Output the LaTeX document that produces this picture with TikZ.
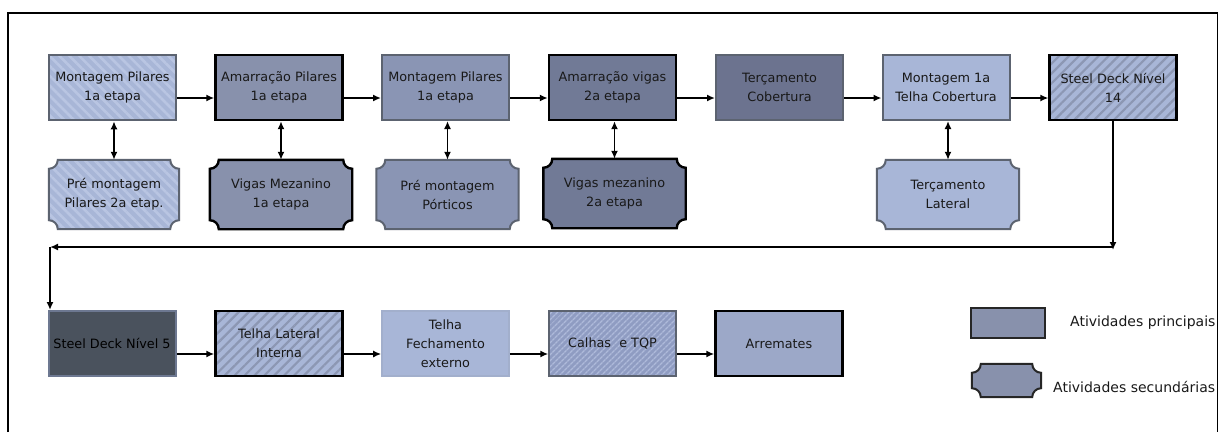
\documentclass[tikz,border=0pt]{standalone}
\usepackage{fontspec}
\setmainfont{DejaVu Sans}
\usetikzlibrary{arrows.meta,patterns.meta,calc,backgrounds}

\definecolor{paleblue}{HTML}{A8B6D7}
\definecolor{palestripe}{HTML}{B9C5E2}
\definecolor{midblue}{HTML}{8891AC}
\definecolor{midblueB}{HTML}{8A95B4}
\definecolor{duskA}{HTML}{717A96}
\definecolor{duskB}{HTML}{6C738F}
\definecolor{slate}{HTML}{4A525D}
\definecolor{hatchdark}{HTML}{8C97B3}
\definecolor{gutterfill}{HTML}{8F9CC2}
\definecolor{gutterstripe}{HTML}{AEBADA}
\definecolor{trimfill}{HTML}{9CA8C8}
\definecolor{edgegray}{HTML}{5C6370}
\definecolor{edgelight}{HTML}{A2AFCC}
\definecolor{edgeslate}{HTML}{6D7891}

% concave-cornered outline drawn around a node
\newcommand\plaque[2]{%
  \path[#2]
    ($(#1.north west)+(9,0)$) -- ($(#1.north east)+(-9,0)$)
    .. controls ($(#1.north east)+(-9,5)$) and ($(#1.north east)+(-5,9)$) .. ($(#1.north east)+(0,9)$)
    -- ($(#1.south east)+(0,-9)$)
    .. controls ($(#1.south east)+(-5,-9)$) and ($(#1.south east)+(-9,-5)$) .. ($(#1.south east)+(-9,0)$)
    -- ($(#1.south west)+(9,0)$)
    .. controls ($(#1.south west)+(9,-5)$) and ($(#1.south west)+(5,-9)$) .. ($(#1.south west)+(0,-9)$)
    -- ($(#1.north west)+(0,9)$)
    .. controls ($(#1.north west)+(5,9)$) and ($(#1.north west)+(9,5)$) .. cycle;}

\begin{document}
\begin{tikzpicture}[x=1pt,y=-1pt,
  txt/.style={font=\fontsize{12.8}{19}\selectfont, text=black!90, align=center, inner sep=0pt},
  box/.style={txt, rectangle, minimum width=127pt, minimum height=65pt},
  sec/.style={txt, rectangle, minimum width=142pt, minimum height=69pt},
  greyedge/.style={draw=edgegray, line width=2pt},
  blackedge/.style={draw=black, line width=2.4pt},
  lightstripes/.style={preaction={fill=paleblue}, pattern={Lines[angle=-45,distance=7pt,line width=2.6pt]}, pattern color=palestripe},
  darkstripes/.style={preaction={fill=paleblue}, pattern={Lines[angle=45,distance=7pt,line width=2.2pt]}, pattern color=hatchdark},
  finestripes/.style={preaction={fill=gutterfill}, pattern={Lines[angle=45,distance=4pt,line width=1.4pt]}, pattern color=gutterstripe},
  flow/.style={-{Latex[length=8pt,width=7pt]}, line width=1.8pt},
  twoway/.style={{Latex[length=8pt,width=7pt]}-{Latex[length=8pt,width=7pt]}, line width=1.8pt},
  legendtext/.style={font=\fontsize{14}{17}\selectfont, text=black!90, anchor=west, inner sep=0pt}]

\useasboundingbox (0,0) rectangle (1219,432);

% frame
\draw[line width=1.6pt] (8,432) -- (8,13) -- (1217.5,13) -- (1217.5,432);

% first row: main activities
\node[box, greyedge, lightstripes] (p1) at (112.5,87.5) {Montagem Pilares\\1a etapa};
\node[box, blackedge, fill=midblue] (p2) at (279,87.5) {Amarração Pilares\\1a etapa};
\node[box, greyedge, fill=midblueB] (p3) at (445.5,87.5) {Montagem Pilares\\1a etapa};
\node[box, blackedge, fill=duskA] (p4) at (612.5,87.5) {Amarração vigas\\2a etapa};
\node[box, greyedge, fill=duskB] (p5) at (779.5,87.5) {Terçamento\\Cobertura};
\node[box, greyedge, fill=paleblue] (p6) at (946,87.5) {Montagem 1a\\Telha Cobertura};
\node[box, blackedge, darkstripes] (p7) at (1113,87.5) {Steel Deck Nível\\14};

% first row: secondary activities
\node[sec, minimum width=130pt] (s1) at (114,194.5) {Pré montagem\\Pilares 2a etap.};
\node[sec] (s2) at (281,194.5) {Vigas Mezanino\\1a etapa};
\node[sec] (s3) at (447.5,194.5) {Pré montagem\\Pórticos};
\node[sec] (s4) at (614.5,193.5) {Vigas mezanino\\2a etapa};
\node[sec] (s6) at (948,194.5) {Terçamento\\Lateral};

% second row
\node[box, draw=edgeslate, line width=2pt, fill=slate, text=black] (q1) at (112,343.5) {Steel Deck Nível 5};
\node[box, blackedge, darkstripes] (q2) at (279,343.5) {Telha Lateral\\Interna};
\node[box, draw=edgelight, line width=1.6pt, fill=paleblue] (q3) at (445.5,343.5) {Telha\\Fechamento\\externo};
\node[box, greyedge, finestripes] (q4) at (612.5,343.5) {Calhas \ e TQP};
\node[box, blackedge, fill=trimfill] (q5) at (779,343.5) {Arremates};

% legend
\node[rectangle, minimum width=74pt, minimum height=30pt, inner sep=0pt, fill=midblue, draw=black!85, line width=2pt] (lg1) at (1008,323) {};
\node[rectangle, minimum width=69pt, minimum height=33pt, inner sep=0pt] (lg2) at (1006.5,380.5) {};
\node[legendtext] (lt1) at (1070,323) {Atividades principais};
\node[legendtext] (lt2) at (1053,387) {Atividades secundárias};

\begin{scope}[on background layer]
  \plaque{s1}{greyedge, lightstripes}
  \plaque{s2}{blackedge, fill=midblue}
  \plaque{s3}{greyedge, fill=midblueB}
  \plaque{s4}{blackedge, fill=duskA}
  \plaque{s6}{greyedge, fill=paleblue}
  \plaque{lg2}{draw=black!85, line width=2pt, fill=midblue}
\end{scope}

% main sequence, first row
\foreach \a/\b in {p1/p2, p2/p3, p3/p4, p4/p5, p5/p6, p6/p7}
  \draw[flow] ($(\a.east)+(0,10.5)$) -- ($(\b.west)+(0,10.5)$);

% links to secondary activities
\foreach \a/\b in {p1/s1, p2/s2, p3/s3, p4/s4, p6/s6}
  \draw[twoway] (\b.north |- \a.south) -- (\b.north);

% return to the second row
\coordinate (turnR) at (1113,247);
\coordinate (turnL) at (50,247);
\draw[flow] (p7.south) -- ($(turnR)+(0,3)$);
\draw[line width=1.8pt] (turnR) -- ($(turnL)+(4,0)$);
\draw[flow] ($(turnR)+(-4,0)$) -- (turnL);
\draw[flow] (turnL) -- (turnL |- q1.north);

% main sequence, second row
\foreach \a/\b in {q1/q2, q2/q3, q3/q4, q4/q5}
  \draw[flow] ($(\a.east)+(0,10.5)$) -- ($(\b.west)+(0,10.5)$);
\end{tikzpicture}
\end{document}
